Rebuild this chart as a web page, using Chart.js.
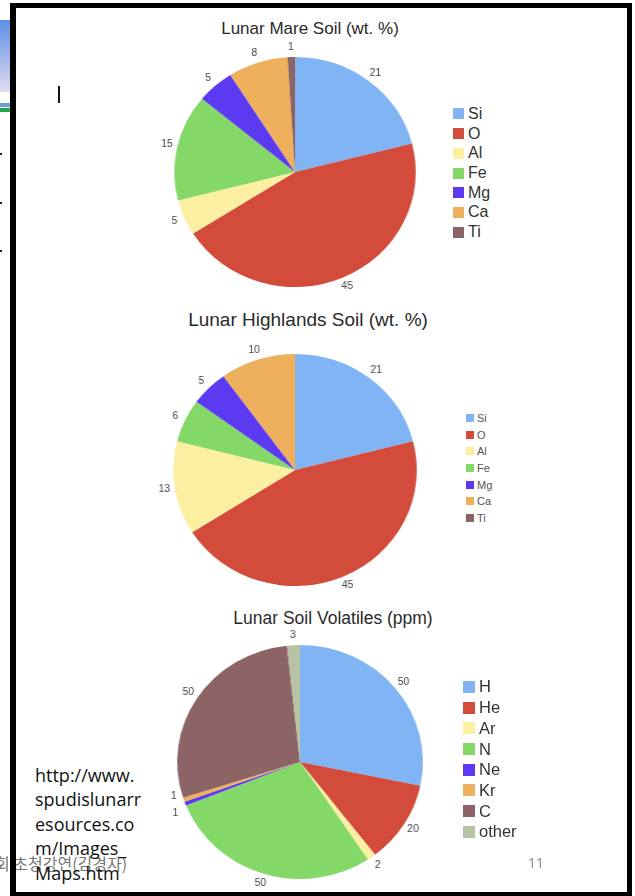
<!DOCTYPE html>
<html>
<head>
<meta charset="utf-8">
<script src="https://cdn.jsdelivr.net/npm/chart.js@4.4.1/dist/chart.umd.min.js"></script>
<style>
    html, body { margin: 0; padding: 0; background: #fff; }
    body { width: 635px; height: 896px; position: relative; overflow: hidden; font-family: "Liberation Sans", Arial, sans-serif; }
    .abs { position: absolute; }
    .frame { left: 10px; top: 3px; width: 622px; height: 894px; box-sizing: border-box; border: 5px solid #000; border-left-width: 6px; z-index: 2; }
    .side-grad { left: 0; top: 20px; width: 10px; height: 72px; background: linear-gradient(#5b8fe6, #e2dcf2); }
    .side-line1 { left: 0; top: 103px; width: 10px; height: 4px; background: #6d9dd4; }
    .side-line2 { left: 0; top: 108px; width: 10px; height: 4px; background: #22a84a; }
    .dot { left: 0; width: 2px; height: 2px; background: #222; }
    .cursor { left: 58px; top: 86px; width: 2px; height: 17px; background: #111; z-index: 3; }
    .footer-kr { left: -5px; top: 851px; font-family: "Noto Sans CJK KR", sans-serif; font-size: 16px; color: #777; white-space: nowrap; z-index: 1; }
    .page-no { left: 528px; top: 853px; font-family: "Open Sans", sans-serif; font-size: 14px; color: #888; z-index: 3; }
    .source { left: 35px; top: 763px; font-family: "Open Sans", sans-serif; font-size: 18px; line-height: 24.4px; color: #111; z-index: 4; }
    .title { transform: translate(-50%, -50%); white-space: nowrap; color: #2a2a2a; z-index: 3; }
    canvas { z-index: 3; transform: scaleX(1.05); }
    .legend { z-index: 3; color: #333; }
    .legend .item { display: flex; align-items: center; white-space: nowrap; }
    .legend .box { display: inline-block; }
</style>
</head>
<body>

<div class="abs side-grad"></div>
<div class="abs side-line1"></div>
<div class="abs side-line2"></div>
<div class="abs dot" style="top:153px"></div>
<div class="abs dot" style="top:202px"></div>
<div class="abs dot" style="top:250px"></div>
<div class="abs footer-kr">회 초청강연(김경자)</div>
<div class="abs frame"></div>
<div class="abs cursor"></div>

<div class="abs title" style="left:310px; top:29px; font-size:17px">Lunar Mare Soil (wt. %)</div>
<div class="abs title" style="left:308px; top:320px; font-size:19px">Lunar Highlands Soil (wt. %)</div>
<div class="abs title" style="left:333px; top:618px; font-size:17.5px">Lunar Soil Volatiles (ppm)</div>

<canvas id="mareChart" class="abs"></canvas>
<canvas id="highlandChart" class="abs"></canvas>
<canvas id="volatileChart" class="abs"></canvas>

<div id="mareLegend" class="abs legend"></div>
<div id="highlandLegend" class="abs legend"></div>
<div id="volatileLegend" class="abs legend"></div>

<div class="abs source">http://www.<br>spudislunarr<br>esources.co<br>m/Images_<br>Maps.htm</div>
<div class="abs page-no">11</div>

<script>
// soil composition, wt. %
const soilElements = ['Si', 'O', 'Al', 'Fe', 'Mg', 'Ca', 'Ti'];
const mareValues = [21, 45, 5, 15, 5, 8, 1];
const highlandValues = [21, 45, 13, 6, 5, 10, 0];

// volatiles, ppm
const volatileNames = ['H', 'He', 'Ar', 'N', 'Ne', 'Kr', 'C', 'other'];
const volatileValues = [50, 20, 2, 50, 1, 1, 50, 3];

const soilColors = ['#80b4f4', '#d24b3b', '#fcefa2', '#84d868', '#5b3af2', '#efb05d', '#8d6465'];
const volatileColors = ['#80b4f4', '#d24b3b', '#fcefa2', '#84d868', '#5b3af2', '#efb05d', '#8d6465', '#b8c3a5'];

// prints each value just outside its slice, nudging neighbours apart when they crowd
const outsideLabels = {
    id: 'outsideLabels',
    afterDatasetsDraw(chart, args, opts) {
        const ctx = chart.ctx;
        const values = chart.data.datasets[0].data;
        const spots = [];
        chart.getDatasetMeta(0).data.forEach((arc, i) => {
            if (!values[i]) return;
            const { x, y, startAngle, endAngle, outerRadius } =
                arc.getProps(['x', 'y', 'startAngle', 'endAngle', 'outerRadius'], true);
            const mid = (startAngle + endAngle) / 2;
            const r = outerRadius + opts.offset;
            spots.push({ text: String(values[i]), x: x + Math.cos(mid) * r, y: y + Math.sin(mid) * r });
        });
        for (let i = 1; i < spots.length; i++) {
            const a = spots[i - 1], b = spots[i];
            const gap = Math.abs(b.y - a.y);
            if (gap < opts.minGap && Math.abs(b.x - a.x) < 14) {
                const push = (opts.minGap - gap) / 2;
                const dir = b.y < a.y ? -1 : 1;
                a.y -= dir * push;
                b.y += dir * push;
            }
        }
        ctx.save();
        ctx.font = opts.font;
        ctx.fillStyle = opts.color;
        ctx.textAlign = 'center';
        ctx.textBaseline = 'middle';
        spots.forEach(s => ctx.fillText(s.text, s.x, s.y));
        ctx.restore();
    }
};

function buildLegend(id, labels, colors, s) {
    const el = document.getElementById(id);
    el.style.left = s.left + 'px';
    el.style.top = (s.first - s.step / 2) + 'px';
    el.style.fontSize = s.font + 'px';
    if (s.color) el.style.color = s.color;
    el.innerHTML = labels.map((name, i) => `
        <div class="item" style="height:${s.step}px">
            <span class="box" style="width:${s.box}px;height:${s.box}px;background:${colors[i]};margin-right:${s.gap}px"></span>${name}
        </div>`).join('');
}

// square canvas centred on (cx, cy); the pie fills the middle, labels use the margin
function drawPie(id, labels, values, colors, s) {
    const canvas = document.getElementById(id);
    const half = s.radius + 30;
    canvas.width = half * 2;
    canvas.height = half * 2;
    canvas.style.left = (s.cx - half) + 'px';
    canvas.style.top = (s.cy - half) + 'px';

    return new Chart(canvas, {
        type: 'pie',
        data: {
            labels: labels,
            datasets: [{
                data: values,
                backgroundColor: colors,
                borderWidth: 0,
                radius: s.radius
            }]
        },
        options: {
            responsive: false,
            animation: false,
            plugins: {
                legend: { display: false },
                tooltip: { enabled: false },
                outsideLabels: {
                    font: '10px "Liberation Sans", Arial, sans-serif',
                    color: '#444',
                    offset: 10,
                    minGap: 17
                }
            }
        },
        plugins: [outsideLabels]
    });
}

drawPie('mareChart', soilElements, mareValues, soilColors, { cx: 295, cy: 172, radius: 115 });
drawPie('highlandChart', soilElements, highlandValues, soilColors, { cx: 295, cy: 470, radius: 116 });
drawPie('volatileChart', volatileNames, volatileValues, volatileColors, { cx: 300, cy: 762, radius: 117 });

buildLegend('mareLegend', soilElements, soilColors, { left: 453, first: 114, step: 19.7, font: 16, box: 11, gap: 4 });
buildLegend('highlandLegend', soilElements, soilColors, { left: 466, first: 418, step: 16.7, font: 11, box: 8, gap: 3, color: '#555' });
buildLegend('volatileLegend', volatileNames, volatileColors, { left: 463, first: 687, step: 20.7, font: 16.5, box: 12, gap: 4 });
</script>
</body>
</html>
